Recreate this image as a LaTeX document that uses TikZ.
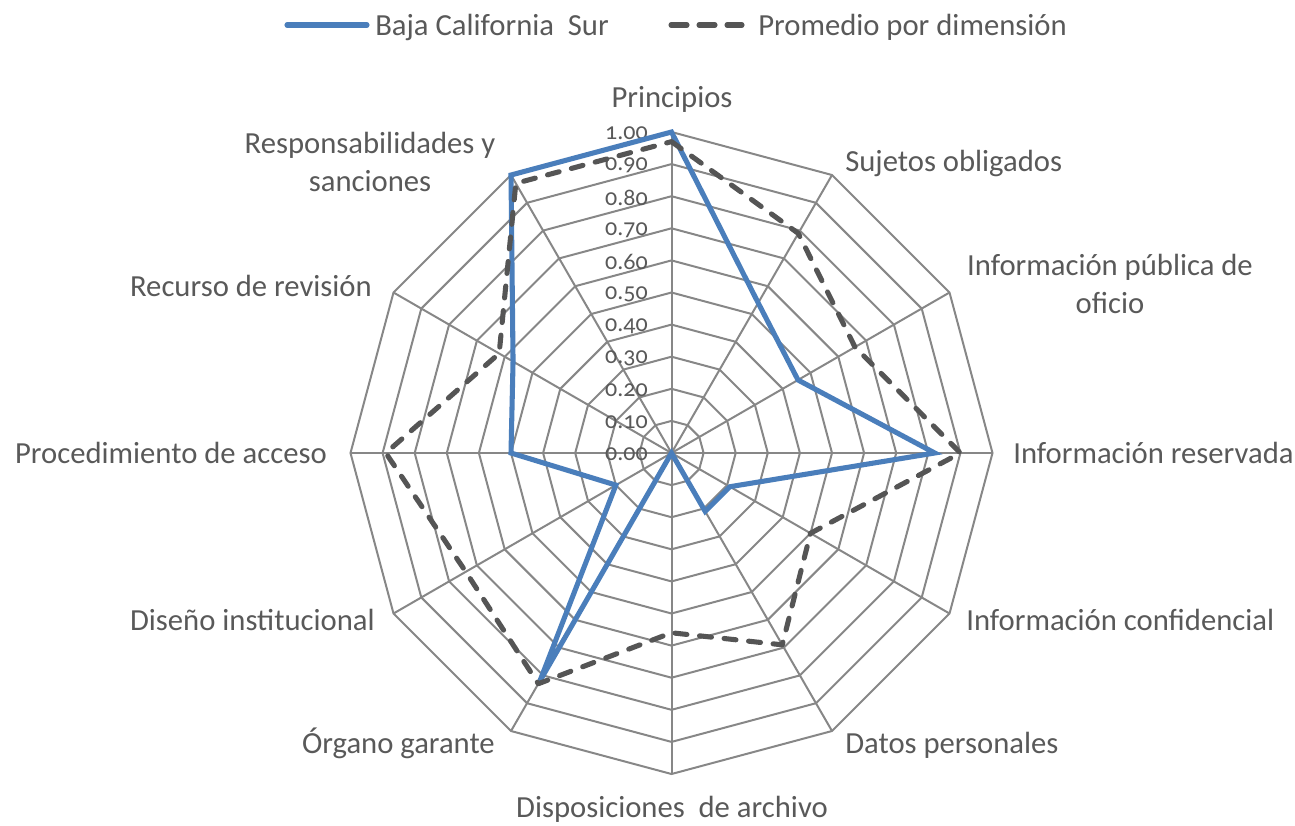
\documentclass[tikz,border=0pt]{standalone}
\usepackage{fontspec}
\setmainfont{Carlito}
\newfontfamily\tickfont[Numbers=OldStyle]{Carlito}
\usetikzlibrary{calc}
\definecolor{txt}{HTML}{595959}
\definecolor{gridc}{HTML}{878787}
\definecolor{bcs}{HTML}{4A7EBB}
\definecolor{avg}{HTML}{555555}
\begin{document}
\begin{tikzpicture}[x=0.75pt,y=-0.75pt,
  lbl/.style={font=\fontsize{23}{28.5}\selectfont, text=txt, inner sep=0pt},
  tick/.style={font=\tickfont\fontsize{18}{20}\selectfont, text=txt, inner sep=0pt, anchor=east},
  gridline/.style={draw=gridc, line width=1.5pt},
  bcsline/.style={draw=bcs, line width=3.8pt, line join=miter},
  avgline/.style={draw=avg, line width=3.8pt, dash pattern=on 9pt off 9.5pt, line cap=round, line join=round}]
\useasboundingbox (0,0) rectangle (1295,825);
\coordinate (O) at (671.5,453);
\def\R{321}
% grid rings
\foreach \i in {1,...,10}{
  \draw[gridline] ($(O)+(0,{-\R*\i/10})$)
    \foreach \k in {1,...,11}{ -- ($(O)+({\R*\i/10*sin(30*\k)},{-\R*\i/10*cos(30*\k)})$) } -- cycle;
}
% spokes
\foreach \k in {0,...,11}{
  \coordinate (a\k) at ($(O)+({\R*sin(30*\k)},{-\R*cos(30*\k)})$);
  \draw[gridline] (O) -- (a\k);
}
% tick labels
\foreach \t [count=\i from 0] in {0.00,0.10,0.20,0.30,0.40,0.50,0.60,0.70,0.80,0.90,1.00}{
  \node[tick] (t\i) at ($(O)+(-23.5,{-\R*\i/10+1.5})$) {\t};
}
% data
\foreach \v [count=\k from 0] in {1.00,0.54,0.455,0.82,0.21,0.21,0.00,0.82,0.20,0.50,0.57,1.00}{
  \coordinate (b\k) at ($(O)+({\R*\v*sin(30*\k)},{-\R*\v*cos(30*\k)})$);
}
\foreach \v [count=\k from 0] in {0.97,0.79,0.66,0.90,0.50,0.69,0.56,0.83,0.74,0.89,0.62,0.97}{
  \coordinate (p\k) at ($(O)+({\R*\v*sin(30*\k)},{-\R*\v*cos(30*\k)})$);
}
\draw[bcsline] (b0) -- (b1) -- (b2) -- (b3) -- (b4) -- (b5) -- (b6) -- (b7) -- (b8) -- (b9) -- (b10) -- (b11) -- cycle;
\draw[avgline] (p0) -- (p1) -- (p2) -- (p3) -- (p4) -- (p5) -- (p6) -- (p7) -- (p8) -- (p9) -- (p10) -- (p11) -- cycle;
% axis labels
\node[lbl, anchor=base] (l0) at (672,107) {Principios};
\node[lbl, anchor=base west] (l1) at (845,171) {Sujetos obligados};
\node[lbl, anchor=base, align=center] (l2) at (1110,313) {Información pública de\\oficio};
\node[lbl, anchor=base west] (l3) at (1013,463) {Información reservada};
\node[lbl, anchor=base west] (l4) at (966,630) {Información confidencial};
\node[lbl, anchor=base west] (l5) at (845,753) {Datos personales};
\node[lbl, anchor=base] (l6) at (672,817) {Disposiciones\hspace{0.45em}de archivo};
\node[lbl, anchor=base east] (l7) at (495,753) {Órgano garante};
\node[lbl, anchor=base east] (l8) at (375,630) {Diseño institucional};
\node[lbl, anchor=base east] (l9) at (327,463) {Procedimiento de acceso};
\node[lbl, anchor=base east] (l10) at (372,296) {Recurso de revisión};
\node[lbl, anchor=base, align=center] (l11) at (370,191) {Responsabilidades y\\sanciones};
% legend
\coordinate (g1a) at (287,25); \coordinate (g1b) at (367,25);
\draw[bcsline, line cap=round] (g1a) -- (g1b);
\node[lbl, anchor=base west] (g1) at (375,35) {Baja California\hspace{0.45em}Sur};
\coordinate (g2a) at (671,25); \coordinate (g2b) at (742,25);
\draw[avgline, dash pattern=on 12pt off 9pt] (g2a) -- (g2b);
\node[lbl, anchor=base west] (g2) at (758,35) {Promedio por dimensión};
\end{tikzpicture}
\end{document}
